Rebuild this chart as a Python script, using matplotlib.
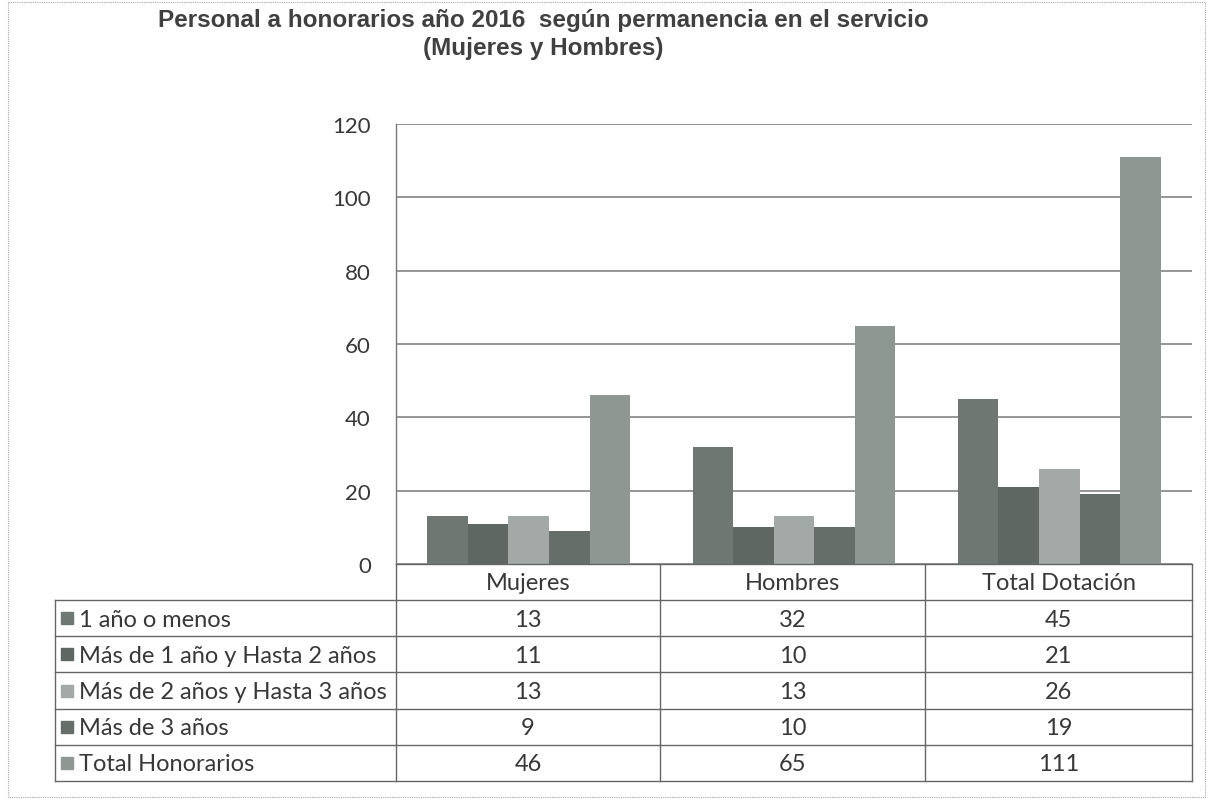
import matplotlib.pyplot as plt
import numpy as np

categories = ["Mujeres", "Hombres", "Total Dotación"]
series_names = [
    "1 año o menos",
    "Más de 1 año y Hasta 2 años",
    "Más de 2 años y Hasta 3 años",
    "Más de 3 años",
    "Total Honorarios",
]
values = [
    [13, 32, 45],
    [11, 10, 21],
    [13, 13, 26],
    [9, 10, 19],
    [46, 65, 111],
]
colors = ["#6f7773", "#5f6763", "#a3a9a6", "#666e6a", "#8f9793"]

W, H = 1211, 803
fig = plt.figure(figsize=(W / 100, H / 100), dpi=100)

# plot area in pixel coords
px_left, px_right, px_top, px_bottom = 396, 1192, 125, 565
ax = fig.add_axes([px_left / W, 1 - px_bottom / H,
                   (px_right - px_left) / W, (px_bottom - px_top) / H])

x = np.arange(len(categories))
bw = 0.153
for k, (vals, c) in enumerate(zip(values, colors)):
    ax.bar(x + (k - 2) * bw, vals, width=bw, color=c, zorder=3)

ax.set_xlim(-0.5, len(categories) - 0.5)
ax.set_ylim(0, 120)
ax.set_yticks(range(0, 121, 20))
ax.yaxis.grid(True, color="#8c8c8c", linewidth=1.3, zorder=0)
ax.set_xticks([])
ax.tick_params(axis="y", length=0, pad=18, labelsize=16, labelcolor="#383838")
for lbl in ax.get_yticklabels():
    lbl.set_family("Lato")
for s in ["top", "right", "bottom"]:
    ax.spines[s].set_visible(False)
ax.spines["left"].set_color("#777777")
ax.spines["left"].set_linewidth(1.0)

# table overlay in pixel coordinates
tx = fig.add_axes([0, 0, 1, 1], zorder=5)
tx.set_xlim(0, W)
tx.set_ylim(H, 0)
tx.axis("off")
tx.patch.set_alpha(0)

line_kw = dict(color="#666666", linewidth=1.0)
col_edges = [px_left, 660, 925, px_right]
head_top, first_row = px_bottom, 601
row_h = 36.2
n_rows = len(series_names)
table_bottom = first_row + n_rows * row_h
tab_left = 55

# header row
tx.plot([px_left, px_right], [head_top, head_top], **line_kw)
for xe in col_edges:
    tx.plot([xe, xe], [head_top, table_bottom], **line_kw)
tx.plot([tab_left, tab_left], [first_row, table_bottom], **line_kw)
for r in range(n_rows + 1):
    y = first_row + r * row_h
    tx.plot([tab_left, px_right], [y, y], **line_kw)

font_kw = dict(family="Lato", fontsize=17, color="#383838")
for i, cat in enumerate(categories):
    xc = (col_edges[i] + col_edges[i + 1]) / 2
    tx.text(xc, (head_top + first_row) / 2 + 1, cat, ha="center", va="center", **font_kw)

for r, (name, vals, c) in enumerate(zip(series_names, values, colors)):
    yc = first_row + (r + 0.5) * row_h
    tx.add_patch(plt.Rectangle((61, yc - 6), 12, 12, color=c))
    tx.text(79, yc + 1, name, ha="left", va="center", **font_kw)
    for i, v in enumerate(vals):
        xc = (col_edges[i] + col_edges[i + 1]) / 2
        tx.text(xc, yc + 1, str(v), ha="center", va="center", **font_kw)

# title
title_kw = dict(ha="center", va="center", family="Liberation Sans", fontsize=17.5,
                fontweight="bold", color="#404040")
tx.text(543, 20, "Personal a honorarios año 2016  según permanencia en el servicio", **title_kw)
tx.text(543, 49, "(Mujeres y Hombres)", **title_kw)

# outer frame
tx.add_patch(plt.Rectangle((8, 3), 1197, 795, fill=False, edgecolor="#aaaaaa",
                           linewidth=0.8, linestyle=(0, (1, 1))))

fig.savefig("out.png", dpi=100)
